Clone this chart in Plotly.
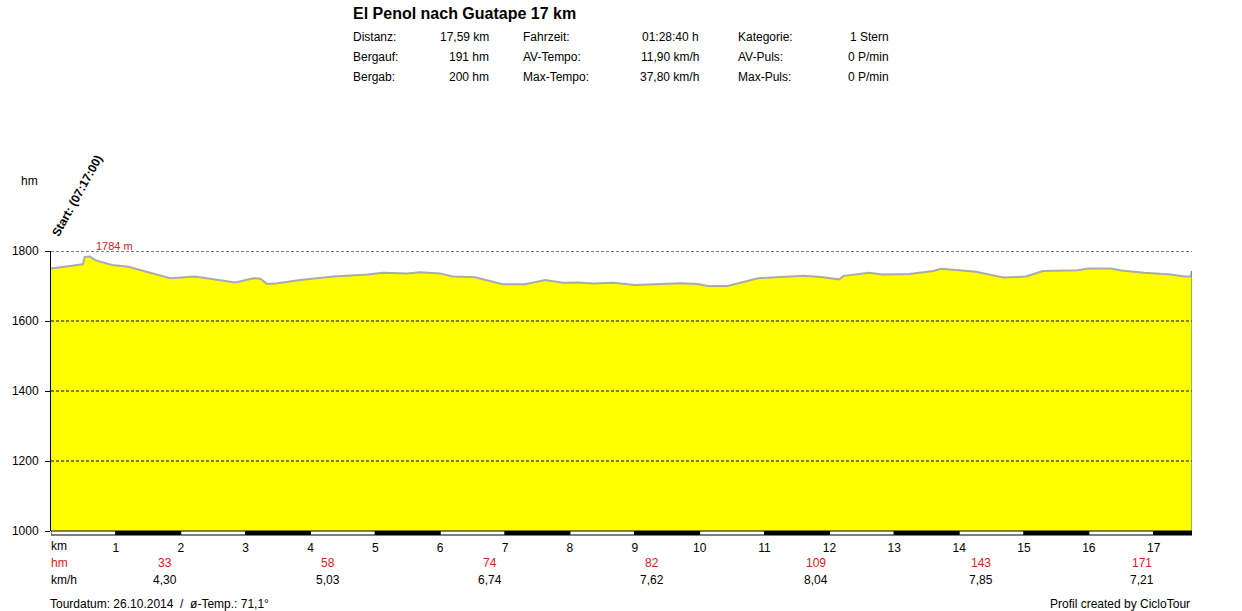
import plotly.graph_objects as go

# ---- data ----
dist_km = [0.00, 0.42, 0.49, 0.52, 0.60, 0.68, 0.94, 1.19, 1.45, 1.84, 2.22, 2.58, 2.84,
           3.12, 3.23, 3.33, 3.49, 3.84, 4.35, 4.88, 5.12, 5.49, 5.69, 6.00, 6.19, 6.54,
           6.96, 7.31, 7.62, 7.89, 8.13, 8.35, 8.66, 9.01, 9.35, 9.71, 9.97, 10.12, 10.43,
           10.63, 10.90, 11.25, 11.60, 11.87, 12.15, 12.22, 12.61, 12.82, 13.23, 13.60,
           13.72, 14.00, 14.26, 14.68, 15.03, 15.29, 15.83, 15.99, 16.34, 16.50, 16.85,
           17.27, 17.47, 17.57, 17.59]
elev_m = [1750, 1760, 1762, 1783, 1784, 1774, 1760, 1755, 1741, 1722, 1727, 1717, 1710,
          1722, 1721, 1706, 1708, 1717, 1727, 1733, 1738, 1736, 1739, 1736, 1727, 1725,
          1705, 1705, 1717, 1709, 1710, 1707, 1709, 1703, 1705, 1708, 1706, 1700, 1700,
          1710, 1722, 1726, 1729, 1726, 1719, 1729, 1738, 1733, 1734, 1743,
          1749, 1745, 1741, 1724, 1727, 1743, 1745, 1750, 1750, 1744, 1738,
          1733, 1727, 1727, 1743]

km_ticks = list(range(1, 18))
y_ticks = [1000, 1200, 1400, 1600, 1800]

seg_pos_km = [1.75, 4.27, 6.77, 9.27, 11.79, 14.34, 16.82]
hm_values = ["33", "58", "74", "82", "109", "143", "171"]
kmh_values = ["4,30", "5,03", "6,74", "7,62", "8,04", "7,85", "7,21"]

title_text = "El Penol nach Guatape 17 km"
stats_col1 = [("Distanz:", "17,59 km"), ("Bergauf:", "191 hm"), ("Bergab:", "200 hm")]
stats_col2 = [("Fahrzeit:", "01:28:40 h"), ("AV-Tempo:", "11,90 km/h"), ("Max-Tempo:", "37,80 km/h")]
stats_col3 = [("Kategorie:", "1 Stern"), ("AV-Puls:", "0 P/min"), ("Max-Puls:", "0 P/min")]
start_label = "Start: (07:17:00)"
footer_left = "Tourdatum: 26.10.2014  /  ø-Temp.: 71,1°"
footer_right = "Profil created by CicloTour"

# ---- layout geometry (pixels) ----
W, H = 1242, 611
L, R, T, B = 51, 1192, 251, 531
FONT = "Arial, Liberation Sans, sans-serif"
RED = "#d42222"


def px(x):
    return (x - L) / (R - L)


def py(y):
    return (B - y) / (B - T)


fig = go.Figure()
fig.add_trace(go.Scatter(
    x=dist_km, y=elev_m, mode="lines", fill="tozeroy",
    fillcolor="#ffff00", line=dict(color="#ababab", width=2),
    hoverinfo="x+y", showlegend=False))

xmax = dist_km[-1]
shapes = []
# dotted grid lines drawn above the fill
for yv in y_ticks[1:]:
    shapes.append(dict(type="line", xref="x", yref="y", x0=0, x1=xmax, y0=yv, y1=yv,
                       line=dict(color="black", width=1, dash="3px,2px"), layer="above"))
# right edge line of the profile
shapes.append(dict(type="line", xref="x", yref="y", x0=xmax, x1=xmax,
                   y0=y_ticks[0], y1=elev_m[-1], line=dict(color="#1a8a7a", width=1),
                   layer="above"))
# alternating km bar under the chart
for k in range(0, 18):
    x0 = k
    x1 = min(k + 1, xmax)
    if x0 >= xmax:
        break
    shapes.append(dict(type="rect", xref="x", yref="paper", x0=x0, x1=x1,
                       y0=py(535), y1=py(531),
                       fillcolor="black" if k % 2 == 1 else "white",
                       line=dict(color="black", width=1), layer="above"))

ann = []
ann.append(dict(text="<b>" + title_text + "</b>", x=px(351), y=py(14), xref="paper", yref="paper",
                xanchor="left", yanchor="middle", showarrow=False,
                font=dict(family=FONT, size=16, color="black")))
rows_y = [37, 57, 77]
for col, (lx, rx) in zip([stats_col1, stats_col2, stats_col3],
                         [(351, 491), (521, 701), (736, 891)]):
    for (lab, val), yy in zip(col, rows_y):
        ann.append(dict(text=lab, x=px(lx), y=py(yy), xref="paper", yref="paper",
                        xanchor="left", yanchor="middle", showarrow=False,
                        font=dict(family=FONT, size=12, color="black")))
        ann.append(dict(text=val, x=px(rx), y=py(yy), xref="paper", yref="paper",
                        xanchor="right", yanchor="middle", showarrow=False,
                        font=dict(family=FONT, size=12, color="black")))

ann.append(dict(text="hm", x=px(19), y=py(181), xref="paper", yref="paper",
                xanchor="left", yanchor="middle", showarrow=False,
                font=dict(family=FONT, size=12, color="black")))
ann.append(dict(text="<b>" + start_label + "</b>", x=px(77), y=py(196), xref="paper", yref="paper",
                xanchor="center", yanchor="middle", showarrow=False, textangle=-61,
                font=dict(family=FONT, size=12, color="black")))

i_max = elev_m.index(max(elev_m))
ann.append(dict(text=f"{max(elev_m)} m", x=dist_km[i_max], y=py(246), xref="x", yref="paper",
                xanchor="left", yanchor="middle", xshift=4, showarrow=False,
                font=dict(family=FONT, size=11, color=RED)))

for lab, yy, colr in [("km", 546, "black"), ("hm", 563, RED), ("km/h", 580, "black")]:
    ann.append(dict(text=lab, x=px(49), y=py(yy), xref="paper", yref="paper",
                    xanchor="left", yanchor="middle", showarrow=False,
                    font=dict(family=FONT, size=12, color=colr)))
for xp, hv, kv in zip(seg_pos_km, hm_values, kmh_values):
    ann.append(dict(text=hv, x=xp, y=py(563), xref="x", yref="paper", xanchor="center",
                    yanchor="middle", showarrow=False, font=dict(family=FONT, size=12, color=RED)))
    ann.append(dict(text=kv, x=xp, y=py(580), xref="x", yref="paper", xanchor="center",
                    yanchor="middle", showarrow=False, font=dict(family=FONT, size=12, color="black")))

ann.append(dict(text=footer_left, x=px(48), y=py(604), xref="paper", yref="paper",
                xanchor="left", yanchor="middle", showarrow=False,
                font=dict(family=FONT, size=12, color="black")))
ann.append(dict(text=footer_right, x=px(1192), y=py(604), xref="paper", yref="paper",
                xanchor="right", yanchor="middle", showarrow=False,
                font=dict(family=FONT, size=12, color="black")))

fig.update_layout(
    width=W, height=H,
    margin=dict(l=L, r=W - R, t=T, b=H - B, pad=0),
    paper_bgcolor="white", plot_bgcolor="white",
    font=dict(family=FONT, size=12, color="black"),
    showlegend=False,
    xaxis=dict(range=[0, xmax], tickvals=km_ticks, ticktext=[str(k) for k in km_ticks],
               ticks="", showgrid=False, zeroline=False, showline=False,
               ticklabelstandoff=8, tickfont=dict(family=FONT, size=12, color="black")),
    yaxis=dict(range=[y_ticks[0], y_ticks[-1]], tickvals=y_ticks, ticks="outside", ticklen=5,
               tickcolor="black", showline=True, linecolor="black", linewidth=1,
               showgrid=False, zeroline=False, ticklabelstandoff=4,
               tickfont=dict(family=FONT, size=12, color="black")),
    shapes=shapes, annotations=ann,
)

fig.write_html("out.html", config={"displayModeBar": False},
               post_script="document.body.style.margin='0';document.body.style.overflow='hidden';")
